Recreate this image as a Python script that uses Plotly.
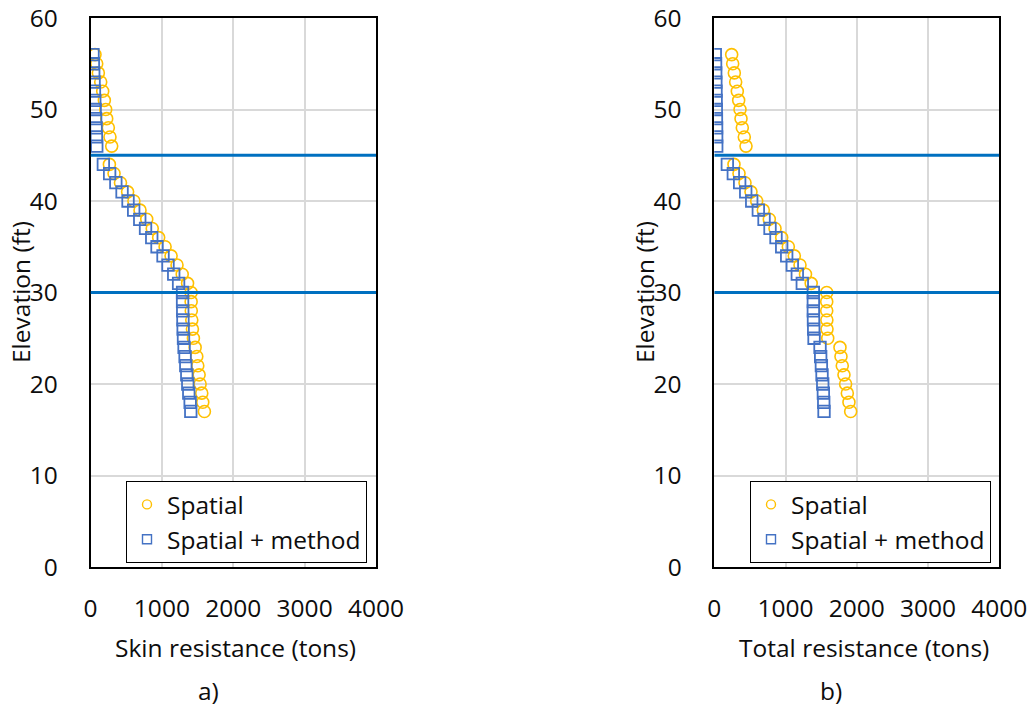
import plotly.graph_objects as go

# Elevations of the computed points (ft); 45 and 30 are layer boundaries
elevation = [56, 55, 54, 53, 52, 51, 50, 49, 48, 47, 46,
             44, 43, 42, 41, 40, 39, 38, 37, 36, 35, 34, 33, 32, 31, 30,
             29, 28, 27, 26, 25, 24, 23, 22, 21, 20, 19, 18, 17]

# Skin resistance (tons)
skin_spatial = [63, 87, 110, 143, 171, 194, 213, 227, 250, 273, 297,
                265, 330, 420, 520, 608, 694, 788, 865, 955, 1045, 1129, 1212, 1285, 1360, 1410,
                1410, 1412, 1419, 1428, 1442, 1466, 1489, 1503, 1522, 1536, 1559, 1573, 1596]
skin_spatial_method = [35, 40, 45, 50, 55, 60, 65, 72, 78, 83, 88,
                       180, 268, 355, 442, 526, 605, 690, 771, 858, 932, 1016, 1086, 1166, 1234, 1290,
                       1290, 1292, 1295, 1298, 1303, 1311, 1325, 1335, 1349, 1363, 1377, 1396, 1405]

# Total resistance (tons)
total_spatial = [244, 258, 281, 300, 323, 342, 361, 375, 393, 421, 445,
                 276, 347, 431, 515, 595, 688, 772, 852, 946, 1039, 1123, 1203, 1280, 1360, 1578,
                 1578, 1578, 1580, 1582, 1592, 1764, 1778, 1796, 1820, 1843, 1867, 1890, 1914]
total_spatial_method = [14, 18, 20, 22, 24, 26, 28, 30, 32, 33, 34,
                        183, 267, 356, 441, 525, 618, 698, 782, 866, 946, 1016, 1095, 1165, 1235, 1390,
                        1390, 1390, 1392, 1395, 1400, 1484, 1493, 1503, 1512, 1522, 1531, 1536, 1540]

layer_boundaries = [45, 30]
x_ticks = [0, 1000, 2000, 3000, 4000]
y_ticks = [0, 10, 20, 30, 40, 50, 60]

FONT = "Open Sans"
GOLD = "#FFC000"
BLUE = "#4472C4"
LINE_BLUE = "#0070C0"
TXT = "#0D0D0D"
FS = 24.5

series_styles = [
    ("Spatial", "circle-open", 12, GOLD, 1.6),
    ("Spatial + method", "square-open", 11.5, BLUE, 1.8),
]

fig = go.Figure()

panels = [
    ("x", "y", "legend", [skin_spatial, skin_spatial_method]),
    ("x2", "y2", "legend2", [total_spatial, total_spatial_method]),
]
for xa, ya, lg, series in panels:
    for (name, symbol, size, color, lw), values in zip(series_styles, series):
        fig.add_trace(go.Scatter(
            x=values, y=elevation, xaxis=xa, yaxis=ya, mode="markers",
            name=name, showlegend=False,
            marker=dict(symbol=symbol, size=size, color=color, line=dict(width=lw, color=color)),
        ))
    # legend entries drawn with smaller symbols
    for name, symbol, size, color, lw in series_styles:
        fig.add_trace(go.Scatter(
            x=[None], y=[None], xaxis=xa, yaxis=ya, legend=lg, mode="markers",
            name=name, showlegend=True,
            marker=dict(symbol=symbol, size=9, color=color, line=dict(width=1.4, color=color)),
        ))
    for b in layer_boundaries:
        fig.add_shape(type="line", xref=xa, yref=ya, x0=x_ticks[0], x1=x_ticks[-1], y0=b, y1=b,
                      line=dict(color=LINE_BLUE, width=3.2), layer="above")

W, H = 1031, 710
y_dom = [(H - 567) / H, (H - 18) / H]
x_dom1 = [90.5 / W, 376 / W]
x_dom2 = [714.3 / W, 999.3 / W]

axis_common = dict(
    showline=True, mirror=True, linecolor="#000000", linewidth=1.5,
    showgrid=True, gridcolor="#D9D9D9", gridwidth=1.6,
    zeroline=False, ticks="", tickfont=dict(family=FONT, size=FS, color=TXT),
    automargin=False,
)
xaxis_common = dict(axis_common, range=[0, 4000], tickvals=x_ticks, ticklabelstandoff=19)
yaxis_common = dict(axis_common, range=[0, 60], tickvals=y_ticks, ticklabelstandoff=26)

legend_common = dict(
    bgcolor="white", bordercolor="#000000", borderwidth=1,
    font=dict(family=FONT, size=FS, color=TXT),
    xanchor="left", yanchor="top", y=(H - 481) / H, tracegroupgap=0,
)

fig.update_layout(
    width=W, height=H,
    margin=dict(l=0, r=0, t=0, b=0, autoexpand=False),
    paper_bgcolor="white", plot_bgcolor="white",
    font=dict(family=FONT, color=TXT),
    xaxis=dict(xaxis_common, domain=x_dom1, anchor="y"),
    yaxis=dict(yaxis_common, domain=y_dom, anchor="x"),
    xaxis2=dict(xaxis_common, domain=x_dom2, anchor="y2"),
    yaxis2=dict(yaxis_common, domain=y_dom, anchor="x2"),
    legend=dict(legend_common, x=126 / W),
    legend2=dict(legend_common, x=750 / W),
    showlegend=True,
)

annotations = [
    ("Skin resistance (tons)", 235, 647, 0),
    ("Total resistance (tons)", 864, 647, 0),
    ("Elevation (ft)", 20, 292, -90),
    ("Elevation (ft)", 644, 292, -90),
    ("a)", 208, 690, 0),
    ("b)", 831, 690, 0),
]
for text, px, py, ang in annotations:
    fig.add_annotation(
        text=text, xref="paper", yref="paper", x=px / W, y=(H - py) / H,
        xanchor="center", yanchor="middle", showarrow=False, textangle=ang,
        font=dict(family=FONT, size=FS, color=TXT),
    )

fig.write_html("out.html")
